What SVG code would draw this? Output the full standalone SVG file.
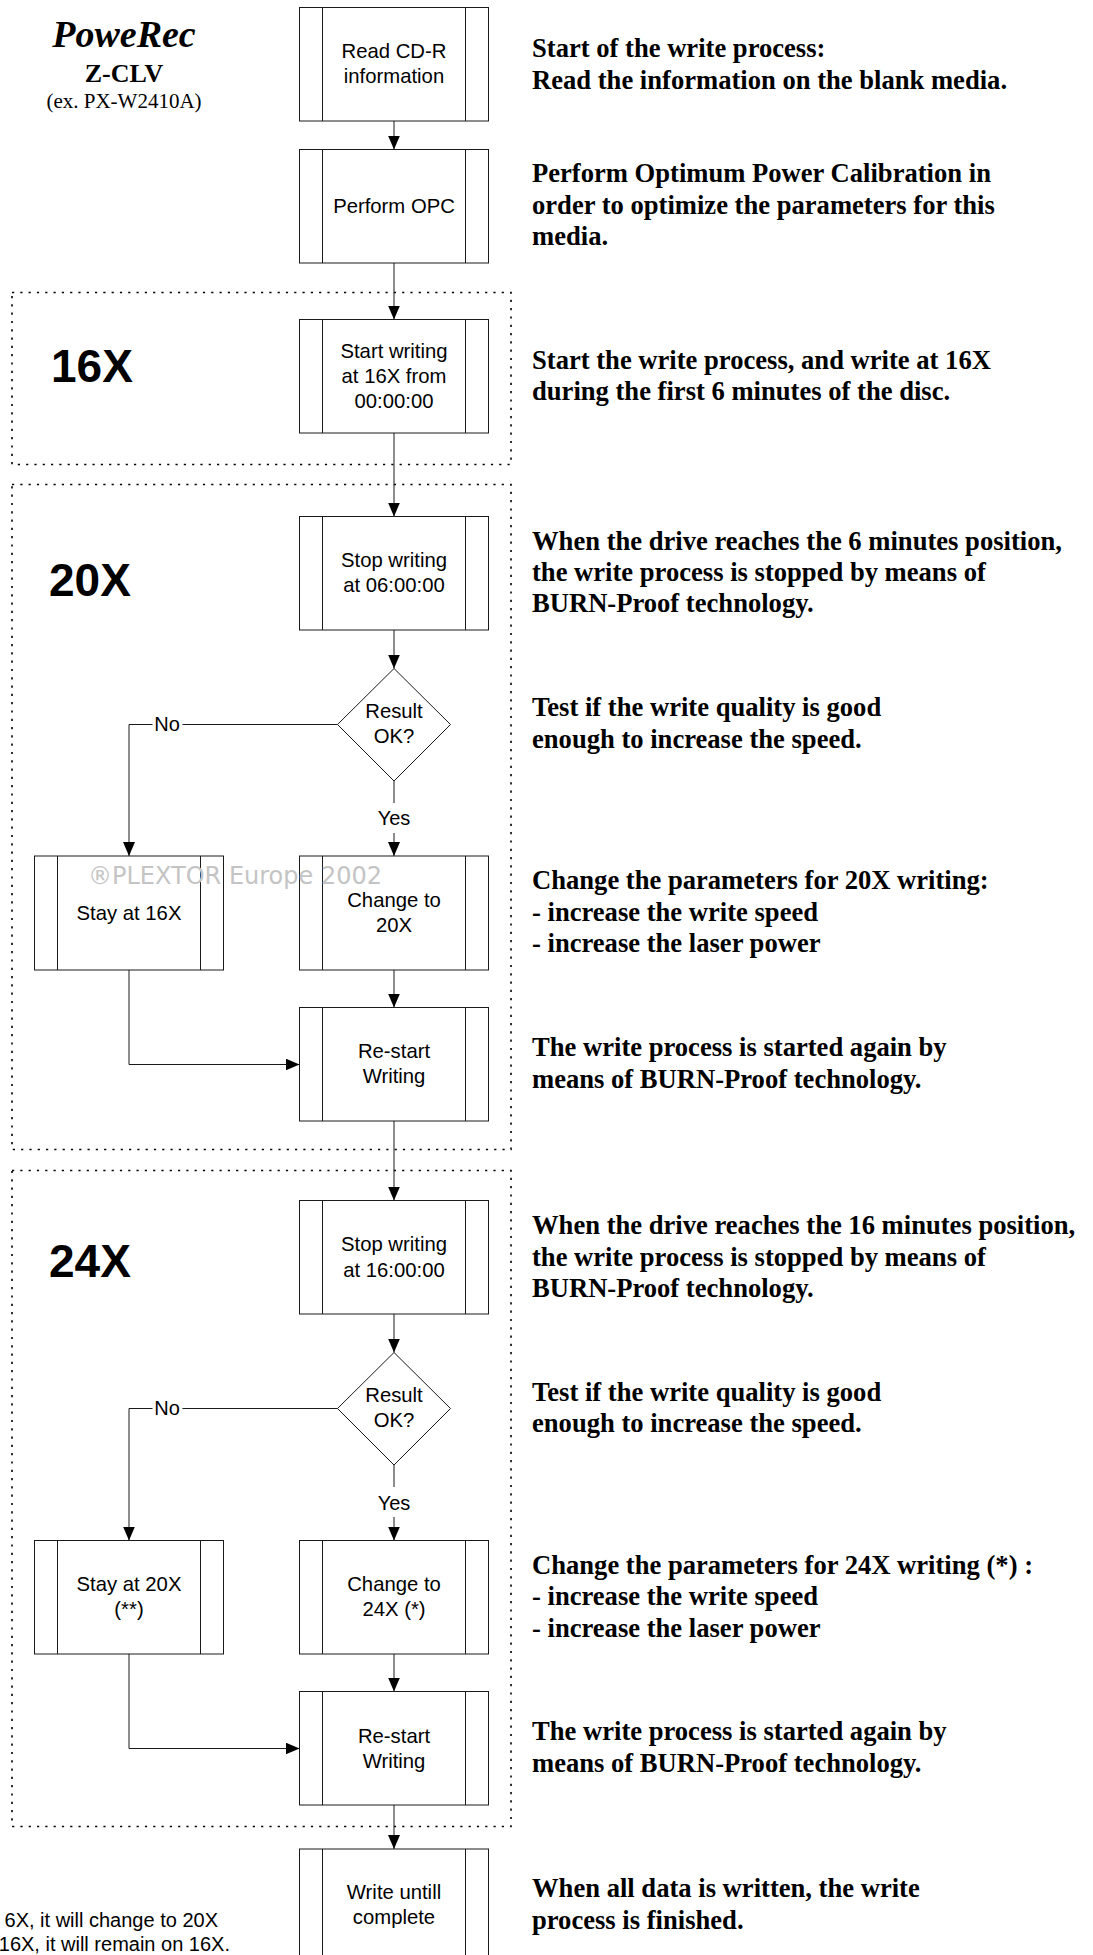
<svg xmlns="http://www.w3.org/2000/svg" width="1093" height="1955" viewBox="0 0 1093 1955">
<style>
.box{fill:#fff;stroke:#1a1a1a;stroke-width:1}
.inner{stroke:#1a1a1a;stroke-width:1}
.dia{fill:#fff;stroke:#1a1a1a;stroke-width:1}
.bt{font-family:"Liberation Sans",Arial,sans-serif;font-size:20.3px;fill:#000;text-anchor:middle}
.lbl{font-family:"Liberation Sans",Arial,sans-serif;font-size:20px;fill:#000;text-anchor:middle}
.big{font-family:"Liberation Sans",Arial,sans-serif;font-size:46px;font-weight:bold;fill:#000}
.desc{font-family:"Liberation Serif","Times New Roman",serif;font-size:26.6px;font-weight:bold;fill:#000}
.note{font-family:"Liberation Sans",Arial,sans-serif;font-size:20px;fill:#000;text-anchor:end}
.dot{fill:none;stroke:#000;stroke-width:1.6;stroke-dasharray:2.2 6.1}
.con{fill:none;stroke:#1a1a1a;stroke-width:1}
.wm{font-family:"DejaVu Sans",sans-serif;font-size:24px;fill:#c4c4c4}
</style>
<defs>
<marker id="ah" markerUnits="userSpaceOnUse" markerWidth="14" markerHeight="12" refX="14" refY="6" orient="auto">
<path d="M0,0 L14,6 L0,12 z" fill="#000"/>
</marker>
</defs>
<rect width="1093" height="1955" fill="#fff"/>

<g id="title">
<text x="124" y="46.5" text-anchor="middle" font-family="Liberation Serif,'Times New Roman',serif" font-size="38" font-weight="bold" font-style="italic">PoweRec</text>
<text x="124" y="82" text-anchor="middle" font-family="Liberation Serif,'Times New Roman',serif" font-size="26" font-weight="bold">Z-CLV</text>
<text x="124" y="108" text-anchor="middle" font-family="Liberation Serif,'Times New Roman',serif" font-size="21">(ex. PX-W2410A)</text>
</g>

<g id="groups">
<rect id="zone16" class="dot" x="12" y="292.5" width="499" height="172"/>
<rect id="zone20" class="dot" x="12" y="484.5" width="499" height="665"/>
<rect id="zone24" class="dot" x="12" y="1170.5" width="499" height="656"/>
<text class="big" x="51" y="381.5">16X</text>
<text class="big" x="49" y="596">20X</text>
<text class="big" x="49" y="1277">24X</text>
</g>

<g id="connectors">
<line class="con" x1="394" y1="121" x2="394" y2="149.5" marker-end="url(#ah)"/>
<line class="con" x1="394" y1="263" x2="394" y2="319.5" marker-end="url(#ah)"/>
<line class="con" x1="394" y1="433" x2="394" y2="516.5" marker-end="url(#ah)"/>
<line class="con" x1="394" y1="630" x2="394" y2="668.5" marker-end="url(#ah)"/>
<polyline class="con" points="182.5,724.5 337.5,724.5"/>
<polyline class="con" points="152.5,724.5 129,724.5 129,856" marker-end="url(#ah)"/>
<text class="lbl" x="167" y="731">No</text>
<line class="con" x1="394" y1="781" x2="394" y2="803"/>
<text class="lbl" x="394" y="825">Yes</text>
<line class="con" x1="394" y1="833" x2="394" y2="856" marker-end="url(#ah)"/>
<line class="con" x1="394" y1="970" x2="394" y2="1007.5" marker-end="url(#ah)"/>
<polyline class="con" points="129,970 129,1064.5 299.5,1064.5" marker-end="url(#ah)"/>
<line class="con" x1="394" y1="1121" x2="394" y2="1200.5" marker-end="url(#ah)"/>
<line class="con" x1="394" y1="1314" x2="394" y2="1352.5" marker-end="url(#ah)"/>
<polyline class="con" points="182.5,1408.5 337.5,1408.5"/>
<polyline class="con" points="152.5,1408.5 129,1408.5 129,1540.5" marker-end="url(#ah)"/>
<text class="lbl" x="167" y="1415">No</text>
<line class="con" x1="394" y1="1465" x2="394" y2="1487"/>
<text class="lbl" x="394" y="1509.5">Yes</text>
<line class="con" x1="394" y1="1517" x2="394" y2="1540.5" marker-end="url(#ah)"/>
<line class="con" x1="394" y1="1654" x2="394" y2="1691.5" marker-end="url(#ah)"/>
<polyline class="con" points="129,1654 129,1748.5 299.5,1748.5" marker-end="url(#ah)"/>
<line class="con" x1="394" y1="1805" x2="394" y2="1849" marker-end="url(#ah)"/>
</g>

<g id="n-read">
<rect class="box" x="299.5" y="7.5" width="189" height="113.5"/>
<line class="inner" x1="322.5" y1="7.5" x2="322.5" y2="121"/><line class="inner" x1="465.5" y1="7.5" x2="465.5" y2="121"/>
<text class="bt" x="394" y="58">Read CD-R</text><text class="bt" x="394" y="83">information</text>
</g>
<g id="n-opc">
<rect class="box" x="299.5" y="149.5" width="189" height="113.5"/>
<line class="inner" x1="322.5" y1="149.5" x2="322.5" y2="263"/><line class="inner" x1="465.5" y1="149.5" x2="465.5" y2="263"/>
<text class="bt" x="394" y="213">Perform OPC</text>
</g>
<g id="n-start16">
<rect class="box" x="299.5" y="319.5" width="189" height="113.5"/>
<line class="inner" x1="322.5" y1="319.5" x2="322.5" y2="433"/><line class="inner" x1="465.5" y1="319.5" x2="465.5" y2="433"/>
<text class="bt" x="394" y="358">Start writing</text><text class="bt" x="394" y="383">at 16X from</text><text class="bt" x="394" y="408">00:00:00</text>
</g>
<g id="n-stop6">
<rect class="box" x="299.5" y="516.5" width="189" height="113.5"/>
<line class="inner" x1="322.5" y1="516.5" x2="322.5" y2="630"/><line class="inner" x1="465.5" y1="516.5" x2="465.5" y2="630"/>
<text class="bt" x="394" y="567">Stop writing</text><text class="bt" x="394" y="592">at 06:00:00</text>
</g>
<g id="n-result1">
<polygon class="dia" points="394,668.5 450.5,724.5 394,781 337.5,724.5"/>
<text class="bt" x="394" y="717.5">Result</text><text class="bt" x="394" y="743">OK?</text>
</g>
<g id="n-stay16">
<rect class="box" x="34.5" y="856" width="189" height="114"/>
<line class="inner" x1="57.5" y1="856" x2="57.5" y2="970"/><line class="inner" x1="200.5" y1="856" x2="200.5" y2="970"/>
<text class="bt" x="129" y="919.5">Stay at 16X</text>
</g>
<g id="n-change20">
<rect class="box" x="299.5" y="856" width="189" height="114"/>
<line class="inner" x1="322.5" y1="856" x2="322.5" y2="970"/><line class="inner" x1="465.5" y1="856" x2="465.5" y2="970"/>
<text class="bt" x="394" y="907">Change to</text><text class="bt" x="394" y="932">20X</text>
</g>
<g id="n-restart1">
<rect class="box" x="299.5" y="1007.5" width="189" height="113.5"/>
<line class="inner" x1="322.5" y1="1007.5" x2="322.5" y2="1121"/><line class="inner" x1="465.5" y1="1007.5" x2="465.5" y2="1121"/>
<text class="bt" x="394" y="1058">Re-start</text><text class="bt" x="394" y="1083">Writing</text>
</g>
<g id="n-stop16">
<rect class="box" x="299.5" y="1200.5" width="189" height="113.5"/>
<line class="inner" x1="322.5" y1="1200.5" x2="322.5" y2="1314"/><line class="inner" x1="465.5" y1="1200.5" x2="465.5" y2="1314"/>
<text class="bt" x="394" y="1251">Stop writing</text><text class="bt" x="394" y="1276.5">at 16:00:00</text>
</g>
<g id="n-result2">
<polygon class="dia" points="394,1352.5 450.5,1408.5 394,1465 337.5,1408.5"/>
<text class="bt" x="394" y="1401.5">Result</text><text class="bt" x="394" y="1427">OK?</text>
</g>
<g id="n-stay20">
<rect class="box" x="34.5" y="1540.5" width="189" height="113.5"/>
<line class="inner" x1="57.5" y1="1540.5" x2="57.5" y2="1654"/><line class="inner" x1="200.5" y1="1540.5" x2="200.5" y2="1654"/>
<text class="bt" x="129" y="1591">Stay at 20X</text><text class="bt" x="129" y="1616">(**)</text>
</g>
<g id="n-change24">
<rect class="box" x="299.5" y="1540.5" width="189" height="113.5"/>
<line class="inner" x1="322.5" y1="1540.5" x2="322.5" y2="1654"/><line class="inner" x1="465.5" y1="1540.5" x2="465.5" y2="1654"/>
<text class="bt" x="394" y="1591">Change to</text><text class="bt" x="394" y="1616">24X (*)</text>
</g>
<g id="n-restart2">
<rect class="box" x="299.5" y="1691.5" width="189" height="113.5"/>
<line class="inner" x1="322.5" y1="1691.5" x2="322.5" y2="1805"/><line class="inner" x1="465.5" y1="1691.5" x2="465.5" y2="1805"/>
<text class="bt" x="394" y="1743">Re-start</text><text class="bt" x="394" y="1767.5">Writing</text>
</g>
<g id="n-write">
<rect class="box" x="299.5" y="1849" width="189" height="114"/>
<line class="inner" x1="322.5" y1="1849" x2="322.5" y2="1963"/><line class="inner" x1="465.5" y1="1849" x2="465.5" y2="1963"/>
<text class="bt" x="394" y="1899">Write untill</text><text class="bt" x="394" y="1923.5">complete</text>
</g>

<text class="wm" x="88" y="884">®PLEXTOR Europe 2002</text>

<g id="descriptions">
<text class="desc" x="532" y="57">Start of the write process:</text>
<text class="desc" x="532" y="89">Read the information on the blank media.</text>
<text class="desc" x="532" y="181.5">Perform Optimum Power Calibration in</text>
<text class="desc" x="532" y="213.5">order to optimize the parameters for this</text>
<text class="desc" x="532" y="245">media.</text>
<text class="desc" x="532" y="368.5">Start the write process, and write at 16X</text>
<text class="desc" x="532" y="400">during the first 6 minutes of the disc.</text>
<text class="desc" x="532" y="549.5">When the drive reaches the 6 minutes position,</text>
<text class="desc" x="532" y="580.5">the write process is stopped by means of</text>
<text class="desc" x="532" y="612">BURN-Proof technology.</text>
<text class="desc" x="532" y="716">Test if the write quality is good</text>
<text class="desc" x="532" y="747.5">enough to increase the speed.</text>
<text class="desc" x="532" y="889">Change the parameters for 20X writing:</text>
<text class="desc" x="532" y="920.5">- increase the write speed</text>
<text class="desc" x="532" y="952">- increase the laser power</text>
<text class="desc" x="532" y="1056">The write process is started again by</text>
<text class="desc" x="532" y="1088">means of BURN-Proof technology.</text>
<text class="desc" x="532" y="1234">When the drive reaches the 16 minutes position,</text>
<text class="desc" x="532" y="1265.5">the write process is stopped by means of</text>
<text class="desc" x="532" y="1297">BURN-Proof technology.</text>
<text class="desc" x="532" y="1400.5">Test if the write quality is good</text>
<text class="desc" x="532" y="1432">enough to increase the speed.</text>
<text class="desc" x="532" y="1574">Change the parameters for 24X writing (*) :</text>
<text class="desc" x="532" y="1605">- increase the write speed</text>
<text class="desc" x="532" y="1636.5">- increase the laser power</text>
<text class="desc" x="532" y="1740">The write process is started again by</text>
<text class="desc" x="532" y="1772">means of BURN-Proof technology.</text>
<text class="desc" x="532" y="1897">When all data is written, the write</text>
<text class="desc" x="532" y="1929">process is finished.</text>
</g>

<g id="footnote">
<text class="note" x="218" y="1927">6X, it will change to 20X</text>
<text class="note" x="230" y="1951">16X, it will remain on 16X.</text>
</g>
</svg>
